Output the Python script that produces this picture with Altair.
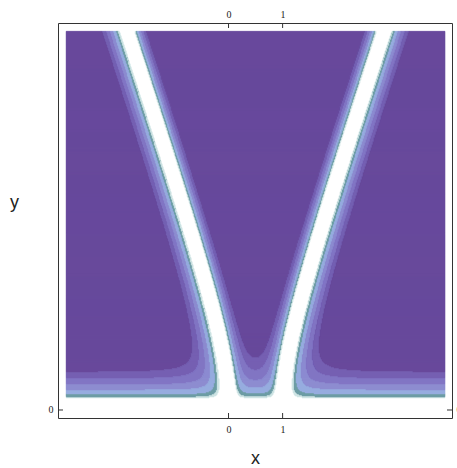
import numpy as np
import pandas as pd
import altair as alt

alt.data_transformers.disable_max_rows()

# Axis windows (frame) and the sampled region of the field
x_domain = [-3.152, 4.131]
y_domain = [-0.148, 7.153]
x_range = [-3.0, 4.0]
y_range = [0.0, 7.0]
x_ticks = [0, 1]
y_ticks = [0]

# Zero set: the line y = 0 and the hyperbola x = c ± sqrt(a² + (k·y)²)
center = 0.5
half_gap = 0.5
slope = 0.332

# Blending of the three zero-distances and the stretch of the floor contours
blend_power = 2.5
floor_scale = [8.0, 12.5, 0.8]
# Beyond the white core the field rises more slowly outside the V than inside it
core_width = 8.0
side_rate = {"outer": 0.76, "inner": 1.12}

# Contour edges (blended distance, px) and fill colours, white core outward
level_edges = [7.5, 8.3, 9.6, 11.8, 14.2, 16.8, 19.5]
level_colors = ["#fbf9f8", "#cfe4e4", "#6c9ca4", "#97acdf",
                "#8d8cd0", "#8276c4", "#7561b3", "#684a9c"]

W, H = 394, 395
px = W / (x_domain[1] - x_domain[0])

nx = int(round((x_range[1] - x_range[0]) * px))
ny = int(round((y_range[1] - y_range[0]) * px))
x_edges = np.linspace(x_range[0], x_range[1], nx + 1)
y_edges = np.linspace(y_range[0], y_range[1], ny + 1)
xc = (x_edges[:-1] + x_edges[1:]) / 2
row_h = y_edges[1] - y_edges[0]

t = np.linspace(0.0, y_range[1] + 1.6, 2400)
off = np.sqrt(half_gap ** 2 + (slope * t) ** 2)
branches = [(-1, center - off), (1, center + off)]

cells = []
for j in range(ny):
    yc = (y_edges[j] + y_edges[j + 1]) / 2
    m = np.abs(t - yc) < 1.6
    tt = t[m]
    off_here = np.sqrt(half_gap ** 2 + (slope * yc) ** 2)
    inv = np.zeros(nx)
    for sgn, bx in branches:
        d2 = (xc[:, None] - bx[m][None, :]) ** 2 + (yc - tt[None, :]) ** 2
        d = np.sqrt(d2.min(axis=1)) * px
        outer = sgn * (xc - (center + sgn * off_here)) > 0
        rate = np.where(outer, side_rate["outer"], side_rate["inner"])
        d = np.where(d > core_width, core_width + (d - core_width) * rate, d)
        inv += np.maximum(d, 1e-6) ** -blend_power
    db = max(yc * px, 1e-6)
    eff = floor_scale[0] * (db / floor_scale[1]) ** floor_scale[2]
    inv += eff ** -blend_power
    D = inv ** (-1.0 / blend_power)
    lev = np.digitize(D, level_edges)
    change = np.flatnonzero(np.diff(lev)) + 1
    starts = np.r_[0, change]
    ends = np.r_[change, nx]
    # each row strip reaches half a row into the next one so strips never leave seams
    top = min(y_edges[j + 1] + 0.5 * row_h, y_range[1])
    for s, e in zip(starts, ends):
        if lev[s] == 0:
            continue
        cells.append((round(x_edges[s], 4), round(x_edges[e], 4),
                      round(y_edges[j], 4), round(top, 4), int(lev[s])))

field = pd.DataFrame(cells, columns=["x0", "x1", "y0", "y1", "level"])

xs = alt.Scale(domain=x_domain, nice=False, zero=False)
ys = alt.Scale(domain=y_domain, nice=False, zero=False)
cs = alt.Scale(domain=list(range(1, 8)), range=level_colors[1:])

label_font = "Liberation Serif"
title_font = "Liberation Sans"

contours = alt.Chart(field).mark_rect(strokeWidth=0.5).encode(
    x=alt.X("x0:Q", scale=xs, axis=alt.Axis(
        orient="bottom", values=x_ticks, title="x", ticks=False, tickSize=0,
        domain=False, grid=False, labelPadding=6, labelFont=label_font,
        labelFontSize=10, labelColor="#222", titleFont=title_font,
        titleFontSize=18, titleFontWeight="normal", titleColor="#222",
        titleBaseline="alphabetic", titleY=45)),
    x2="x1:Q",
    y=alt.Y("y0:Q", scale=ys, axis=alt.Axis(
        orient="left", values=y_ticks, title="y", ticks=False, tickSize=0,
        domain=False, grid=False, labelPadding=5, labelFont=label_font,
        labelFontSize=10, labelColor="#222", titleFont=title_font,
        titleFontSize=18, titleFontWeight="normal", titleColor="#222",
        titleAngle=0, titleAlign="center", titleBaseline="alphabetic",
        titleX=-44, titleY=184)),
    y2="y1:Q",
    color=alt.Color("level:O", scale=cs, legend=None),
    stroke=alt.Stroke("level:O", scale=cs, legend=None),
)

xt = pd.DataFrame({"xt": x_ticks})
yt = pd.DataFrame({"yt": y_ticks})

top_ticks = alt.Chart(xt).mark_rule(color="#333", strokeWidth=1).encode(
    x=alt.X("xt:Q", scale=xs, axis=alt.Axis(
        orient="top", values=x_ticks, title=None, ticks=False, tickSize=0,
        domain=False, grid=False, labelPadding=4, labelFont=label_font,
        labelFontSize=10, labelColor="#222")),
    y=alt.value(0), y2=alt.value(5),
)
bottom_ticks = alt.Chart(xt).mark_rule(color="#333", strokeWidth=1).encode(
    x=alt.X("xt:Q", scale=xs, axis=None),
    y=alt.value(H), y2=alt.value(H - 5),
)
right_ticks = alt.Chart(yt).mark_rule(color="#333", strokeWidth=1).encode(
    y=alt.Y("yt:Q", scale=ys, axis=alt.Axis(
        orient="right", values=y_ticks, title=None, ticks=False, tickSize=0,
        domain=False, grid=False, labelPadding=4, labelFont=label_font,
        labelFontSize=10, labelColor="#222")),
    x=alt.value(W), x2=alt.value(W - 5),
)
left_ticks = alt.Chart(yt).mark_rule(color="#333", strokeWidth=1).encode(
    y=alt.Y("yt:Q", scale=ys, axis=None),
    x=alt.value(0), x2=alt.value(5),
)

chart = alt.layer(contours, top_ticks, bottom_ticks, right_ticks, left_ticks).resolve_axis(
    x="independent", y="independent"
).properties(
    width=W, height=H,
    autosize=alt.AutoSizeParams(type="none"),
    padding={"left": 58, "top": 23, "right": 5, "bottom": 50},
    background="white",
).configure_view(stroke="#333", strokeWidth=1)

chart.save("out.html", embed_options={"renderer": "svg", "actions": False})
